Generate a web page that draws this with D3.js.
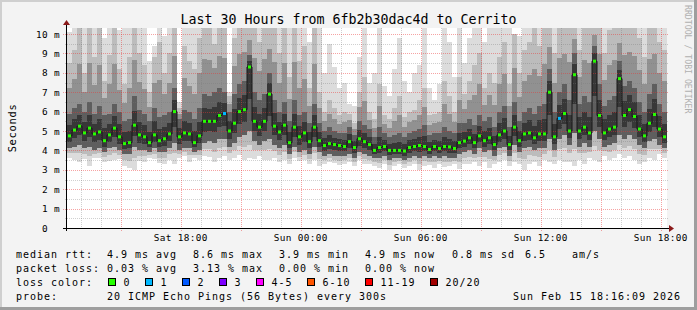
<!DOCTYPE html>
<html>
<head>
<meta charset="utf-8">
<script src="https://cdn.jsdelivr.net/npm/d3@7"></script>
<style>
body { margin: 0; background: #f3f3f3; }
text { font-family: "DejaVu Sans Mono", monospace; white-space: pre; }
</style>
</head>
<body>
<svg id="chart" width="697" height="310"></svg>
<script>
// 120 columns of 15 minutes each, Sat 12:19 -> Sun 18:19
var startTime = new Date(2026, 1, 14, 12, 19);
var endTime = new Date(2026, 1, 15, 18, 19);

// median rtt (ms) per column
var medianRtt = [
  4.75,5.05,5.25,4.9,5.15,4.85,4.95,4.5,4.8,5.15,4.7,4.35,4.4,5.3,4.8,4.7,4.4,4.8,4.5,4.6,
  4.85,6.0,4.7,4.9,4.85,4.4,4.75,5.5,5.5,5.5,5.8,5.9,5.0,5.4,6.0,6.1,8.3,5.5,5.2,5.5,
  6.9,5.25,4.95,5.3,4.4,5.2,4.7,4.9,4.45,5.2,4.5,4.25,4.35,4.3,4.25,4.2,4.45,4.15,4.6,4.45,
  4.3,4.0,4.15,4.2,4.0,4.0,4.0,3.97,4.15,4.2,4.25,4.2,4.05,4.2,4.1,4.2,4.18,4.1,4.4,4.48,
  4.65,4.4,4.75,4.5,4.65,4.3,4.8,5.0,4.3,5.2,4.5,4.85,4.9,4.65,4.85,4.85,7.0,4.7,5.65,5.9,
  5.0,7.9,5.0,5.2,4.9,8.6,5.8,4.9,5.1,5.2,7.7,5.8,6.1,5.75,5.1,4.75,5.4,5.85,5.1,4.7
];
// smoke: fastest ping
var smokeMin = [
  3.6,3.5,3.4,3.55,3.2,3.6,3.6,3.4,3.45,3.5,3.55,3.2,3.1,3.0,3.45,3.4,3.6,3.55,3.35,3.3,
  3.5,3.3,3.6,3.7,3.4,3.6,3.5,3.7,3.65,3.4,3.6,3.7,3.5,3.6,3.75,3.5,3.6,3.55,3.7,3.5,
  3.5,3.6,3.4,3.5,3.3,3.6,3.45,3.5,3.3,3.5,3.2,3.3,3.4,3.35,3.25,3.3,3.4,3.2,3.5,3.3,
  3.3,3.2,3.1,3.3,3.0,3.2,3.3,3.1,3.2,3.3,3.0,3.2,3.25,3.1,3.3,3.15,3.2,3.3,3.05,3.3,
  3.3,3.4,3.2,3.4,3.1,3.3,3.4,3.5,3.2,3.4,3.3,3.0,3.3,3.4,3.2,3.5,3.4,3.3,3.5,3.4,
  3.4,3.2,3.5,3.3,3.6,3.5,3.4,3.7,3.5,3.6,3.8,3.6,3.7,3.5,3.3,3.4,3.6,3.5,3.8,3.6
];
// smoke: lower quartile
var smokeQ1 = [
  4.1,4.2,4.3,4.1,4.2,4.0,4.1,3.9,4.1,4.2,4.0,3.8,3.8,4.2,4.0,4.0,3.9,4.1,3.9,3.9,
  4.1,4.4,4.0,4.1,4.1,3.9,4.0,4.4,4.5,4.4,4.6,4.6,4.2,4.4,4.7,4.8,5.0,4.5,4.3,4.5,
  4.6,4.3,4.1,4.3,3.8,4.2,3.9,4.0,3.8,4.2,3.9,3.7,3.8,3.7,3.7,3.7,3.8,3.6,3.9,3.8,
  3.7,3.6,3.6,3.7,3.5,3.6,3.6,3.5,3.6,3.7,3.6,3.7,3.6,3.7,3.6,3.7,3.6,3.6,3.8,3.9,
  4.0,3.8,4.1,3.9,4.0,3.7,4.1,4.2,3.7,4.3,3.9,4.1,4.2,4.0,4.1,4.1,4.6,4.0,4.6,4.8,
  4.3,4.9,4.2,4.4,4.2,5.0,4.6,4.2,4.3,4.4,4.8,4.6,4.8,4.6,4.3,4.1,4.5,4.6,4.3,4.1
];
// smoke: upper quartile
var smokeQ3 = [
  5.9,6.2,6.4,6.0,6.5,5.9,6.3,5.8,5.9,6.4,6.0,5.5,5.6,6.8,6.1,5.9,5.5,6.2,5.7,5.8,
  6.0,7.2,5.6,6.1,6.0,5.6,6.2,6.9,6.8,7.0,7.2,7.0,6.0,6.9,7.4,7.6,8.9,7.0,6.6,6.9,
  8.0,6.6,6.0,6.5,5.5,6.6,5.8,6.0,5.4,6.4,5.4,5.0,5.2,5.0,4.9,4.9,5.2,4.8,5.5,5.3,
  5.1,4.7,5.2,4.9,4.7,4.8,4.9,4.7,4.9,5.0,5.1,5.3,4.8,4.9,4.9,5.2,5.0,4.9,5.4,5.4,
  5.6,5.3,5.8,5.5,5.7,5.2,6.0,6.3,5.2,6.5,5.5,6.0,6.2,5.9,6.3,6.4,8.2,6.0,7.0,7.4,
  6.6,9.0,6.4,6.8,6.5,9.4,7.4,6.3,6.6,6.8,8.6,7.3,7.6,7.2,6.5,6.0,6.9,7.4,6.4,6.0
];
// smoke: 90th percentile
var smokeP90 = [
  8.5,9.2,10.5,8.0,10.5,8.8,10.5,7.6,8.9,10.5,8.2,7.4,8.8,10.5,9.0,8.4,7.0,8.8,9.6,8.0,
  9.0,10.5,6.2,9.4,8.6,8.2,9.8,10.5,10.5,9.5,10.5,10.5,6.8,9.8,10.5,10.5,10.5,10.5,9.6,10.5,
  10.5,10.5,9.0,10.5,7.8,10.5,8.6,9.4,7.2,10.5,7.0,6.0,6.6,6.2,5.8,6.0,5.9,5.4,7.0,7.8,
  6.0,5.6,7.4,5.8,5.6,6.2,6.8,5.7,6.0,6.1,6.6,7.2,5.8,5.9,6.0,7.6,6.8,6.0,7.8,6.9,
  7.6,8.4,9.0,7.2,8.0,7.5,8.8,9.6,7.4,10.0,8.0,9.2,9.6,10.5,9.4,10.5,10.5,9.0,10.5,10.5,
  10.5,10.5,9.2,10.5,10.5,10.5,10.5,9.0,10.2,10.5,10.5,10.5,10.5,10.5,9.8,8.8,10.5,10.5,9.6,9.2
];
// smoke: slowest ping
var smokeMax = [
  10.1,10.5,10.5,10.5,10.5,10.5,10.5,9.8,10.5,10.5,10.2,10.5,10.5,10.5,10.5,10.5,8.6,9.4,10.5,9.9,
  10.5,10.5,6.5,10.5,10.5,10.5,10.5,10.5,10.5,10.5,10.5,10.5,7.0,10.5,10.5,10.5,10.5,10.5,10.5,10.5,
  10.5,10.5,10.5,10.5,10.5,10.5,10.5,10.5,9.6,10.5,10.5,8.0,9.5,8.3,7.2,7.5,6.4,6.3,8.8,10.5,
  7.5,8.0,10.5,7.3,6.8,8.2,9.8,7.6,7.0,8.0,8.4,10.5,7.2,6.6,7.4,10.5,9.6,7.8,10.5,8.5,
  9.8,10.5,10.5,9.6,10.5,10.5,10.5,10.5,10.5,10.0,9.9,10.5,10.5,10.5,10.5,10.5,10.5,10.5,10.5,10.5,
  10.5,10.5,10.5,10.5,10.5,10.5,10.5,10.5,10.5,10.5,10.5,10.5,10.5,10.5,10.5,10.5,10.5,10.5,10.5,10.5
];
// columns with lost pings
var lossCols = [31, 98];
var lossCounts = [1, 1];

var lossLabels = ["0", "1", "2", "3", "4-5", "6-10", "11-19", "20/20"];
var lossColors = ["#26ff00", "#00b8ff", "#0059ff", "#7e00ff", "#ff00ff", "#ff5500", "#ff0000", "#a10000"];
var lossUpper = [0, 1, 2, 3, 5, 10, 19, 20];

var yTicks = [0, 1, 2, 3, 4, 5, 6, 7, 8, 9, 10];

var statsRtt = ["4.9 ms avg", "8.6 ms max", "3.9 ms min", "4.9 ms now", "0.8 ms sd", "6.5", "am/s"];
var statsLoss = ["0.03 % avg", "3.13 % max", "0.00 % min", "0.00 % now"];

(function () {
var W = 697, H = 310;
var pLeft = 67, pRight = 667, pTop = 28, pBottom = 228;
var svg = d3.select("#chart");

var x = d3.scaleTime().domain([startTime, endTime]).range([pLeft, pRight]);
var y = d3.scaleLinear().domain([0, 10.31]).range([pBottom, pTop]);

function colTime(i) { return d3.timeMinute.offset(startTime, 15 * i); }
function colX(i) { return x(colTime(i)); }
function colW(i) { return x(colTime(i + 1)) - x(colTime(i)); }

// canvas + frame
svg.append("rect").attr("width", W).attr("height", H).attr("fill", "#f3f3f3");
svg.append("rect").attr("x", 0).attr("y", 0).attr("width", W).attr("height", 2).attr("fill", "#cfcfcf");
svg.append("rect").attr("x", 0).attr("y", 0).attr("width", 2).attr("height", H).attr("fill", "#cfcfcf");
svg.append("rect").attr("x", 0).attr("y", H - 3).attr("width", W).attr("height", 3).attr("fill", "#9e9e9e");
svg.append("rect").attr("x", W - 3).attr("y", 0).attr("width", 3).attr("height", H).attr("fill", "#9e9e9e");

svg.append("rect").attr("x", pLeft).attr("y", pTop).attr("width", pRight - pLeft).attr("height", pBottom - pTop).attr("fill", "#ffffff");

svg.append("clipPath").attr("id", "plotclip").append("rect")
  .attr("x", pLeft).attr("y", pTop).attr("width", pRight - pLeft).attr("height", pBottom - pTop);

var g = svg.append("g").attr("clip-path", "url(#plotclip)");
var cols = d3.range(medianRtt.length);

function band(cls, color, lo, hi) {
  g.selectAll("rect." + cls)
    .data(cols)
    .join("rect")
    .attr("class", cls)
    .attr("x", colX)
    .attr("width", function (i) { return colW(i) + 0.02; })
    .attr("y", function (i) { return y(hi(i)); })
    .attr("height", function (i) { return Math.max(0, y(lo(i)) - y(hi(i))); })
    .attr("fill", color)
    .attr("shape-rendering", "crispEdges");
}

band("s1", "#dcdcdc", function (i) { return smokeMin[i]; }, function (i) { return smokeMax[i]; });
band("s2", "#bcbcbc", function (i) { return (smokeMin[i] + smokeQ1[i]) / 2; }, function (i) { return smokeP90[i]; });
band("s3", "#919191", function (i) { return smokeQ1[i]; }, function (i) { return (smokeQ3[i] + smokeP90[i]) / 2; });
band("s4", "#5e5e5e", function (i) { return smokeQ1[i]; }, function (i) { return smokeQ3[i]; });
band("s5", "#373737", function (i) { return (smokeQ1[i] + medianRtt[i]) / 2; }, function (i) { return (medianRtt[i] + smokeQ3[i]) / 2; });

// grid on top of the smoke, rrdtool style
var minorX = d3.timeHour.every(1).range(startTime, endTime);
var majorX = d3.timeHour.every(3).range(startTime, endTime);
var labelX = d3.timeHour.every(6).range(startTime, endTime);
var grid = svg.append("g");

grid.selectAll("line.mx").data(minorX.filter(function (d) { return d.getHours() % 3 !== 0; }))
  .join("line").attr("class", "mx")
  .attr("x1", function (d) { return Math.round(x(d)) + 0.5; })
  .attr("x2", function (d) { return Math.round(x(d)) + 0.5; })
  .attr("y1", pTop).attr("y2", pBottom + 2)
  .attr("stroke", "rgba(120,120,120,0.35)").attr("stroke-dasharray", "1,1");

var minorY = d3.range(0.5, 10.31, 1);
grid.selectAll("line.my").data(minorY)
  .join("line").attr("class", "my")
  .attr("x1", pLeft - 2).attr("x2", pRight + 1)
  .attr("y1", function (d) { return Math.round(y(d)) + 0.5; })
  .attr("y2", function (d) { return Math.round(y(d)) + 0.5; })
  .attr("stroke", "rgba(120,120,120,0.35)").attr("stroke-dasharray", "1,1");

grid.selectAll("line.Mx").data(majorX)
  .join("line").attr("class", "Mx")
  .attr("x1", function (d) { return Math.round(x(d)) + 0.5; })
  .attr("x2", function (d) { return Math.round(x(d)) + 0.5; })
  .attr("y1", pTop).attr("y2", pBottom + 3)
  .attr("stroke", "rgba(235,50,50,0.45)").attr("stroke-dasharray", "1,1");

grid.selectAll("line.My").data(yTicks.slice(1))
  .join("line").attr("class", "My")
  .attr("x1", pLeft - 4).attr("x2", pRight + 1)
  .attr("y1", function (d) { return Math.round(y(d)) + 0.5; })
  .attr("y2", function (d) { return Math.round(y(d)) + 0.5; })
  .attr("stroke", "rgba(235,50,50,0.45)").attr("stroke-dasharray", "1,1");

// median line and loss-coloured markers
var medLine = d3.line()
  .x(function (i) { return colX(i) + colW(i) / 2; })
  .y(function (i) { return y(medianRtt[i]); })
  .curve(d3.curveStep);
svg.append("path").datum(cols)
  .attr("d", medLine)
  .attr("fill", "none")
  .attr("stroke", "#181818")
  .attr("stroke-width", 1)
  .attr("clip-path", "url(#plotclip)");

function lossColor(i) {
  var k = lossCols.indexOf(i);
  var n = k < 0 ? 0 : lossCounts[k];
  for (var j = 0; j < lossUpper.length; j++) {
    if (n <= lossUpper[j]) return lossColors[j];
  }
  return lossColors[lossColors.length - 1];
}

svg.append("g").attr("clip-path", "url(#plotclip)")
  .selectAll("rect").data(cols).join("rect")
  .attr("x", function (i) { return colX(i) + colW(i) / 2 - 1.5; })
  .attr("y", function (i) { return y(medianRtt[i]) - 1.5; })
  .attr("width", 3).attr("height", 3)
  .attr("fill", lossColor);

// axes
svg.append("line").attr("x1", pLeft - 4).attr("x2", pRight + 2)
  .attr("y1", pBottom + 0.5).attr("y2", pBottom + 0.5).attr("stroke", "#000");
svg.append("line").attr("x1", pLeft - 0.5).attr("x2", pLeft - 0.5)
  .attr("y1", pBottom + 3).attr("y2", pTop - 4).attr("stroke", "#000");
svg.append("path").attr("d", "M" + (pRight + 2) + "," + (pBottom - 3) + "L" + (pRight + 7) + "," + (pBottom + 0.5) + "L" + (pRight + 2) + "," + (pBottom + 4) + "Z")
  .attr("fill", "#8b1a1a");
svg.append("path").attr("d", "M" + (pLeft - 4) + "," + (pTop - 3) + "L" + (pLeft - 0.5) + "," + (pTop - 8) + "L" + (pLeft + 3) + "," + (pTop - 3) + "Z")
  .attr("fill", "#8b1a1a");

svg.append("g").selectAll("text").data(yTicks).join("text")
  .attr("x", 60)
  .attr("y", function (d) { return y(d) + 3.5; })
  .attr("text-anchor", "end")
  .attr("font-size", "9.4px")
  .attr("letter-spacing", "0.35px")
  .attr("fill", "#000")
  .text(function (d) { return d === 0 ? "0  " : d + " m"; });

var fmt = d3.timeFormat("%a %H:%M");
svg.append("g").selectAll("text").data(labelX).join("text")
  .attr("x", function (d) { return x(d); })
  .attr("y", 241)
  .attr("text-anchor", "middle")
  .attr("font-size", "9.4px")
  .attr("letter-spacing", "0.35px")
  .attr("fill", "#000")
  .text(fmt);

// title and side labels
svg.append("text").attr("x", W / 2).attr("y", 23.5).attr("text-anchor", "middle")
  .attr("font-size", "13.3px").attr("fill", "#000")
  .text("Last 30 Hours from 6fb2b30dac4d to Cerrito");

svg.append("text").attr("transform", "translate(15.5," + ((pTop + pBottom) / 2) + ") rotate(-90)")
  .attr("text-anchor", "middle").attr("font-size", "10.4px").attr("letter-spacing", "0.7px").attr("fill", "#000")
  .text("Seconds");

svg.append("text").attr("transform", "translate(685,5) rotate(90)")
  .attr("font-size", "8.2px").attr("fill", "#b0b0b0")
  .text("RRDTOOL / TOBI OETIKER");

// legend
function legendText(xp, yp, s, anchor) {
  svg.append("text").attr("x", xp).attr("y", yp)
    .attr("text-anchor", anchor || "start")
    .attr("font-size", "10px").attr("letter-spacing", "0.98px").attr("fill", "#000")
    .text(s);
}
var statX = [107, 193, 279, 365, 452, 525, 572];
legendText(16, 258, "median rtt:");
statsRtt.forEach(function (s, i) { legendText(statX[i], 258, s); });
legendText(16, 272, "packet loss:");
statsLoss.forEach(function (s, i) { legendText(statX[i], 272, s); });
legendText(16, 286, "loss color:");
var boxX = [108.5, 145.5, 182.5, 219.5, 256.5, 307.5, 365.5, 430.5];
lossLabels.forEach(function (s, i) {
  svg.append("rect").attr("x", boxX[i]).attr("y", 278.5).attr("width", 7).attr("height", 7)
    .attr("fill", lossColors[i]).attr("stroke", "#000").attr("stroke-width", 1);
  legendText(boxX[i] + 15, 286, s);
});
legendText(16, 300, "probe:");
legendText(107, 300, "20 ICMP Echo Pings (56 Bytes) every 300s");
legendText(681, 300, "Sun Feb 15 18:16:09 2026", "end");
})();
</script>
</body>
</html>
